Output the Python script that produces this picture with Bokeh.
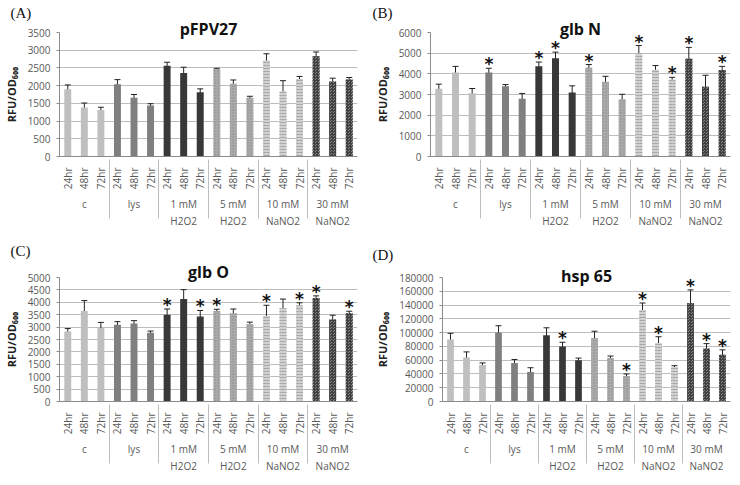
import math
from bokeh.plotting import figure
from bokeh.models import (FactorRange, ColumnDataSource, Whisker, TeeHead, Title,
                          Range1d, SingleIntervalTicker, NumeralTickFormatter)
from bokeh.layouts import row, column
from bokeh.embed import file_html
from bokeh.resources import INLINE
from bokeh.core.properties import value

# ---------------- data ----------------
groups = ["c", "lys", "1 mM\nH2O2", "5 mM\nH2O2", "10 mM\nNaNO2", "30 mM\nNaNO2"]
times = ["24hr", "48hr", "72hr"]

pfpv27_mean = [1900, 1380, 1310, 2040, 1660, 1440, 2560, 2360, 1810,
               2470, 2050, 1660, 2710, 1840, 2190, 2830, 2120, 2170]
pfpv27_err = [120, 130, 80, 130, 90, 50, 100, 160, 100,
              20, 110, 40, 190, 300, 70, 120, 90, 60]
pfpv27_sig = [0] * 18

glbn_mean = [3280, 4060, 3060, 4070, 3400, 2800, 4370, 4750, 3100,
             4290, 3620, 2770, 4990, 4200, 3730, 4730, 3380, 4180]
glbn_err = [220, 300, 230, 200, 80, 250, 200, 300, 320,
            160, 260, 240, 380, 200, 100, 550, 550, 180]
glbn_sig = [0, 0, 0, 1, 0, 0, 1, 1, 0, 1, 0, 0, 1, 0, 1, 1, 0, 1]

glbo_mean = [2820, 3650, 2960, 3090, 3150, 2770, 3500, 4130, 3430,
             3650, 3560, 3120, 3450, 3760, 3880, 4170, 3310, 3560]
glbo_err = [120, 420, 230, 130, 110, 70, 230, 380, 240,
            70, 170, 80, 430, 370, 100, 90, 170, 80]
glbo_sig = [0, 0, 0, 0, 0, 0, 1, 0, 1, 1, 0, 0, 1, 0, 1, 1, 0, 1]

hsp65_mean = [90000, 64000, 53000, 100000, 56000, 43000, 96000, 80000, 60000,
              92000, 63000, 37000, 133000, 85000, 50000, 143000, 77000, 68000]
hsp65_err = [9000, 8000, 3000, 10000, 5000, 6000, 11000, 6000, 3000,
             10000, 3000, 3000, 10000, 9000, 2000, 19000, 7000, 7000]
hsp65_sig = [0, 0, 0, 0, 0, 0, 0, 1, 0, 0, 0, 1, 1, 1, 0, 1, 1, 1]

titles = ["pFPV27", "glb N", "glb O", "hsp 65"]
letters = ["(A)", "(B)", "(C)", "(D)"]
y_max = [3500, 6000, 5000, 180000]
y_step = [500, 1000, 500, 20000]

# ---------------- styles ----------------
FILL = ["#bfbfbf", "#7f7f7f", "#383838", "#ababab", "#d0d0d0", "#858585"]
HATCH = [" ", " ", " ", "dot", "horizontal_dash", "criss_cross"]
HATCH_COLOR = ["#bfbfbf", "#7f7f7f", "#383838", "#8a8a8a", "#a3a3a3", "#404040"]
FONT = "Open Sans"
TXT = "#595959"
GRID = "#bdbdbd"

factors = [(g, t) for g in groups for t in times]

# layout per panel: (min_border_left, frame_width, min_border_right, top, frame_height, bottom)
LAY = [(51, 298, 13, 32, 124, 78),
       (60, 300, 2, 32, 124, 78),
       (51, 298, 13, 43, 124, 67),
       (72, 288, 2, 43, 124, 67)]
GENE_STANDOFF = [-14, -14, -10, -18]
LETTER_STANDOFF = [3, 3, 10, 18]


def panel(i, mean, err, sig):
    ml, fw, mr, mt, fh, mb = LAY[i]
    p = figure(x_range=FactorRange(*factors, factor_padding=0, group_padding=0,
                                   subgroup_padding=0, range_padding=0),
               y_range=Range1d(0, y_max[i]),
               frame_width=fw, frame_height=fh,
               min_border_left=ml, min_border_right=mr,
               min_border_top=mt, min_border_bottom=mb,
               output_backend="svg", toolbar_location=None,
               background_fill_color="white", border_fill_color="white")
    p.outline_line_color = None
    # panel letter (outermost title row)
    p.title.text = letters[i]
    p.title.align = "left"
    p.title.offset = -(ml - 2)
    p.title.standoff = LETTER_STANDOFF[i]
    p.title.text_font = "Liberation Serif"
    p.title.text_font_size = "15px"
    p.title.text_font_style = "normal"
    p.title.text_color = "#111111"
    # gene title (next to the frame)
    gene = Title(text=titles[i], align="center", standoff=GENE_STANDOFF[i],
                 text_font=FONT, text_font_size="16px", text_font_style="bold",
                 text_color="#111111")
    p.add_layout(gene, "above")

    colors = [FILL[k // 3] for k in range(18)]
    hatches = [HATCH[k // 3] for k in range(18)]
    hcols = [HATCH_COLOR[k // 3] for k in range(18)]
    upper = [m + e for m, e in zip(mean, err)]
    lower = [m - e for m, e in zip(mean, err)]
    src = ColumnDataSource(dict(x=factors, top=mean, upper=upper, lower=lower,
                                color=colors, hatch=hatches, hcol=hcols))
    p.vbar(x="x", top="top", width=0.42, source=src, fill_color="color",
           line_color=None, hatch_pattern="hatch", hatch_color="hcol",
           hatch_scale=3, hatch_weight=1)
    w = Whisker(base="x", upper="upper", lower="lower", source=src,
                line_color="#222222", line_width=1,
                upper_head=TeeHead(size=6, line_color="#222222", line_width=1),
                lower_head=TeeHead(size=6, line_color="#222222", line_width=1))
    p.add_layout(w)

    sx = [f for f, s in zip(factors, sig) if s]
    sy = [u for u, s in zip(upper, sig) if s]
    if sx:
        ssrc = ColumnDataSource(dict(x=sx, y=sy, t=["*"] * len(sx)))
        p.text(x="x", y="y", text="t", source=ssrc, text_align="center",
               text_baseline="alphabetic", y_offset=-4,
               text_font=value("DejaVu Sans"), text_font_size="17px",
               text_font_style="bold", text_color="#111111")

    # axes
    p.yaxis.ticker = SingleIntervalTicker(interval=y_step[i])
    p.yaxis.formatter = NumeralTickFormatter(format="0")
    p.yaxis.axis_label = "RFU/OD\u2086\u2080\u2080"
    p.yaxis.axis_label_text_font = FONT
    p.yaxis.axis_label_text_font_size = "11px"
    p.yaxis.axis_label_text_font_style = "bold"
    p.yaxis.axis_label_text_color = "#222222"
    p.yaxis.axis_label_standoff = 6
    p.yaxis.major_label_text_font = FONT
    p.yaxis.major_label_text_font_size = "10px"
    p.yaxis.major_label_text_color = TXT
    p.yaxis.axis_line_color = "#8c8c8c"
    p.yaxis.major_tick_out = 3
    p.yaxis.major_tick_in = 0
    p.yaxis.minor_tick_line_color = None
    p.yaxis.major_tick_line_color = "#8c8c8c"

    p.xaxis.axis_line_color = "#8c8c8c"
    p.xaxis.major_tick_line_color = None
    p.xaxis.minor_tick_line_color = None
    p.xaxis.major_label_orientation = math.pi / 2
    p.xaxis.major_label_text_font = FONT
    p.xaxis.major_label_text_font_size = "10px"
    p.xaxis.major_label_text_color = TXT
    p.xaxis.group_text_font = FONT
    p.xaxis.group_text_font_size = "10px"
    p.xaxis.group_text_font_style = "normal"
    p.xaxis.group_text_color = TXT
    p.xaxis.group_label_orientation = "horizontal"
    p.xaxis.separator_line_color = GRID
    p.xaxis.separator_line_width = 1

    p.xgrid.grid_line_color = None
    p.ygrid.grid_line_color = GRID
    return p


pa = panel(0, pfpv27_mean, pfpv27_err, pfpv27_sig)
pb = panel(1, glbn_mean, glbn_err, glbn_sig)
pc = panel(2, glbo_mean, glbo_err, glbo_sig)
pd = panel(3, hsp65_mean, hsp65_err, hsp65_sig)

layout = column(row(pa, pb), row(pc, pd))
open("out.html", "w").write(file_html(layout, INLINE))
